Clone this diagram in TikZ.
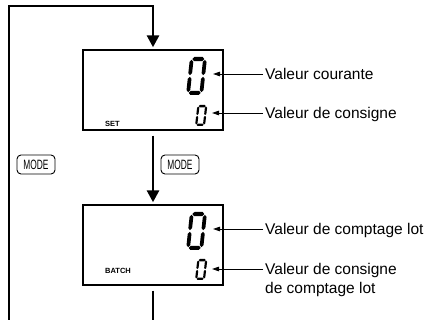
\documentclass[tikz,border=0pt]{standalone}
\usepackage{fontspec}
\setmainfont{Liberation Sans}
\newfontfamily\keyfont[FakeStretch=0.62]{Liberation Sans}
\usepackage{tikz}
\usetikzlibrary{arrows.meta,positioning,calc}

\tikzset{
  segzero/.pic={
    \fill (0.15,1.89) -- (0.26,2) -- (0.74,2) -- (0.85,1.89) -- (0.74,1.78) -- (0.26,1.78) -- cycle;
    \fill (0.15,0.11) -- (0.26,0.22) -- (0.74,0.22) -- (0.85,0.11) -- (0.74,0) -- (0.26,0) -- cycle;
    \fill (0.11,1.04) -- (0.22,1.15) -- (0.22,1.74) -- (0.11,1.85) -- (0,1.74) -- (0,1.15) -- cycle;
    \fill (0.11,0.15) -- (0.22,0.26) -- (0.22,0.85) -- (0.11,0.96) -- (0,0.85) -- (0,0.26) -- cycle;
    \fill (0.89,1.04) -- (1,1.15) -- (1,1.74) -- (0.89,1.85) -- (0.78,1.74) -- (0.78,1.15) -- cycle;
    \fill (0.89,0.15) -- (1,0.26) -- (1,0.85) -- (0.89,0.96) -- (0.78,0.85) -- (0.78,0.26) -- cycle;
  }
}

\begin{document}
\begin{tikzpicture}[
  x=1pt, y=1pt,
  lcd/.style={draw, line width=1.4pt, minimum width=140pt, minimum height=80pt, inner sep=0pt},
  lbl/.style={font={\fontsize{15.5}{19}\selectfont}, inner xsep=2pt, inner ysep=0pt, text height=11pt, text depth=0pt},
  lbltwo/.style={font={\fontsize{15.5}{19}\selectfont}, inner xsep=2pt, inner ysep=0pt, align=left},
  tag/.style={font={\bfseries\fontsize{7.5}{8}\selectfont}, inner sep=0pt},
  modekey/.style={draw, line width=0.9pt, rounded corners=4pt, minimum width=38pt, minimum height=19pt, inner sep=0pt, font={\keyfont\fontsize{13.5}{12}\selectfont}},
  flow/.style={-{Triangle[width=12pt,length=12pt]}, line width=2.8pt, shorten >=2pt},
  trunk/.style={line width=2.8pt},
  leader/.style={-{Triangle[width=4.5pt,length=7pt]}, line width=0.8pt}
]
\useasboundingbox (0,0) rectangle (435,320);

% displays
\node[lcd] (setlcd) at (153,230) {};
\node[lcd] (batchlcd) at (153,75) {};

\pic[xscale=17, yscale=19, xslant=0.12] at (186,225) {segzero};
\pic[xscale=10, yscale=10.5, xslant=0.12] at (195,194) {segzero};
\pic[xscale=17, yscale=19, xslant=0.12] at (186,70) {segzero};
\pic[xscale=10, yscale=10.5, xslant=0.12] at (195,40) {segzero};

\node[tag, anchor=west] (settag) at (105,196) {SET};
\node[tag, anchor=west] (batchtag) at (105,49) {BATCH};

% keys
\node[modekey] (leftkey) at (36,155.5) {MODE};
\node[modekey] (rightkey) at (180,155.5) {MODE};

% labels
\node[lbl, anchor=west] (curlbl) at (263,246) {Valeur courante};
\node[lbl, anchor=west] (setlbl) at (263,207) {Valeur de consigne};
\node[lbl, anchor=west] (countlbl) at (263,91) {Valeur de comptage lot};
\node[lbltwo, anchor=north west] (batchsetlbl) at (263,56.5) {Valeur de consigne\\de comptage lot};

\coordinate (curtip) at (213,246);
\coordinate (settip) at (212,207);
\coordinate (counttip) at (213,91);
\coordinate (batchsettip) at (212,51);

\draw[leader] (curlbl.west) -- (curtip);
\draw[leader] (setlbl.west) -- (settip);
\draw[leader] (countlbl.west) -- (counttip);
\draw[leader] ([yshift=-5.5pt]batchsetlbl.north west) -- (batchsettip);

% loop
\coordinate (loopstart) at (9,0);
\coordinate (looptop) at (9,314);
\coordinate (loopend) at (153,0);

\draw[flow] (loopstart) -- (looptop) -| (setlcd.north);
\draw[flow] ([yshift=-5pt]setlcd.south) -- (batchlcd.north);
\draw[trunk] ([yshift=-5pt]batchlcd.south) -- (loopend);
\end{tikzpicture}
\end{document}
